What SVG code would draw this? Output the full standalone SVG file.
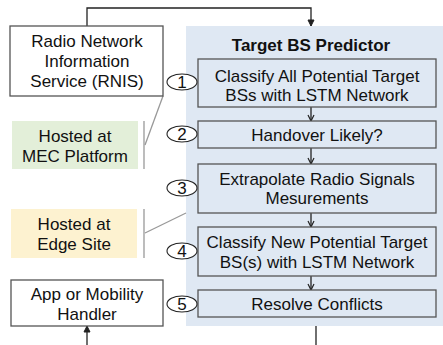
<svg xmlns="http://www.w3.org/2000/svg" width="443" height="345" viewBox="0 0 443 345">
<defs>
<marker id="ah" markerWidth="8" markerHeight="8" refX="7" refY="4" orient="auto" markerUnits="userSpaceOnUse" viewBox="0 0 8 8">
<path d="M1,1 L7,4 L1,7" fill="none" stroke="#222" stroke-width="1.2"/>
</marker>
<marker id="ahf" markerWidth="8" markerHeight="8" refX="7" refY="4" orient="auto" markerUnits="userSpaceOnUse" viewBox="0 0 8 8">
<path d="M1,1 L7,4 L1,7 Z" fill="#222" stroke="#222" stroke-width="1"/>
</marker>
</defs>
<style>
text{font-family:"Liberation Sans",Arial,sans-serif;font-size:17px;fill:#111;text-anchor:middle}
.b{font-weight:bold}
.box{fill:#fff;stroke:#555;stroke-width:1.3}
.step{fill:#dfe8f3;stroke:#555;stroke-width:1.3}
.num{fill:#fff;stroke:#222;stroke-width:1.1}
.n{font-size:17px}
.conn{fill:none;stroke:#222;stroke-width:1.3}
.gray{fill:none;stroke:#999;stroke-width:1.3}
</style>
<rect width="443" height="345" fill="#fff"/>
<g id="panel">
<rect x="186" y="26" width="257" height="300" fill="#dfe8f3"/>
<text class="b" x="311" y="51">Target BS Predictor</text>
</g>
<g id="connectors">
<path class="conn" d="M87,26 V8 H311 V26" marker-end="url(#ahf)"/>
<path class="conn" d="M311,107 V121" marker-end="url(#ah)"/>
<path class="conn" d="M311,148 V164" marker-end="url(#ah)"/>
<path class="conn" d="M311,213 V227" marker-end="url(#ah)"/>
<path class="conn" d="M311,276 V290" marker-end="url(#ah)"/>
<path class="conn" d="M316,326 V345"/>
<path class="conn" d="M87,345 V326" marker-end="url(#ahf)"/>
<path class="gray" d="M144,121 V169"/>
<path class="gray" d="M163,96 L145,145"/>
<path class="gray" d="M144,209 V258"/>
<path class="gray" d="M145,233 L186,213"/>
</g>
<g id="rnis">
<rect class="box" x="10" y="26" width="153" height="70"/>
<text x="87" y="47">Radio Network</text>
<text x="87" y="67">Information</text>
<text x="87" y="87">Service (RNIS)</text>
</g>
<g id="mec">
<rect x="12" y="121" width="126" height="48" fill="#e3efd9"/>
<text x="75" y="142">Hosted at</text>
<text x="75" y="162">MEC Platform</text>
</g>
<g id="edge">
<rect x="11" y="209" width="126" height="49" fill="#fdf2d0"/>
<text x="74" y="230">Hosted at</text>
<text x="74" y="250">Edge Site</text>
</g>
<g id="app">
<rect class="box" x="11" y="280" width="152" height="46"/>
<text x="87" y="300">App or Mobility</text>
<text x="87" y="320">Handler</text>
</g>
<g id="step1">
<rect class="step" x="198" y="59" width="238" height="48"/>
<text x="317" y="82">Classify All Potential Target</text>
<text x="317" y="101">BSs with LSTM Network</text>
<ellipse class="num" cx="182" cy="82" rx="15" ry="8"/>
<text class="n" x="182" y="88">1</text>
</g>
<g id="step2">
<rect class="step" x="198" y="121" width="238" height="27"/>
<text x="317" y="141">Handover Likely?</text>
<ellipse class="num" cx="182" cy="134" rx="15" ry="8"/>
<text class="n" x="182" y="140">2</text>
</g>
<g id="step3">
<rect class="step" x="198" y="164" width="238" height="49"/>
<text x="317" y="185">Extrapolate Radio Signals</text>
<text x="317" y="204">Mesurements</text>
<ellipse class="num" cx="182" cy="188" rx="15" ry="8"/>
<text class="n" x="182" y="194">3</text>
</g>
<g id="step4">
<rect class="step" x="198" y="227" width="238" height="49"/>
<text x="317" y="248">Classify New Potential Target</text>
<text x="317" y="268">BS(s) with LSTM Network</text>
<ellipse class="num" cx="182" cy="251" rx="15" ry="8"/>
<text class="n" x="182" y="257">4</text>
</g>
<g id="step5">
<rect class="step" x="198" y="290" width="238" height="27"/>
<text x="317" y="310">Resolve Conflicts</text>
<ellipse class="num" cx="182" cy="304" rx="15" ry="8"/>
<text class="n" x="182" y="310">5</text>
</g>
</svg>
